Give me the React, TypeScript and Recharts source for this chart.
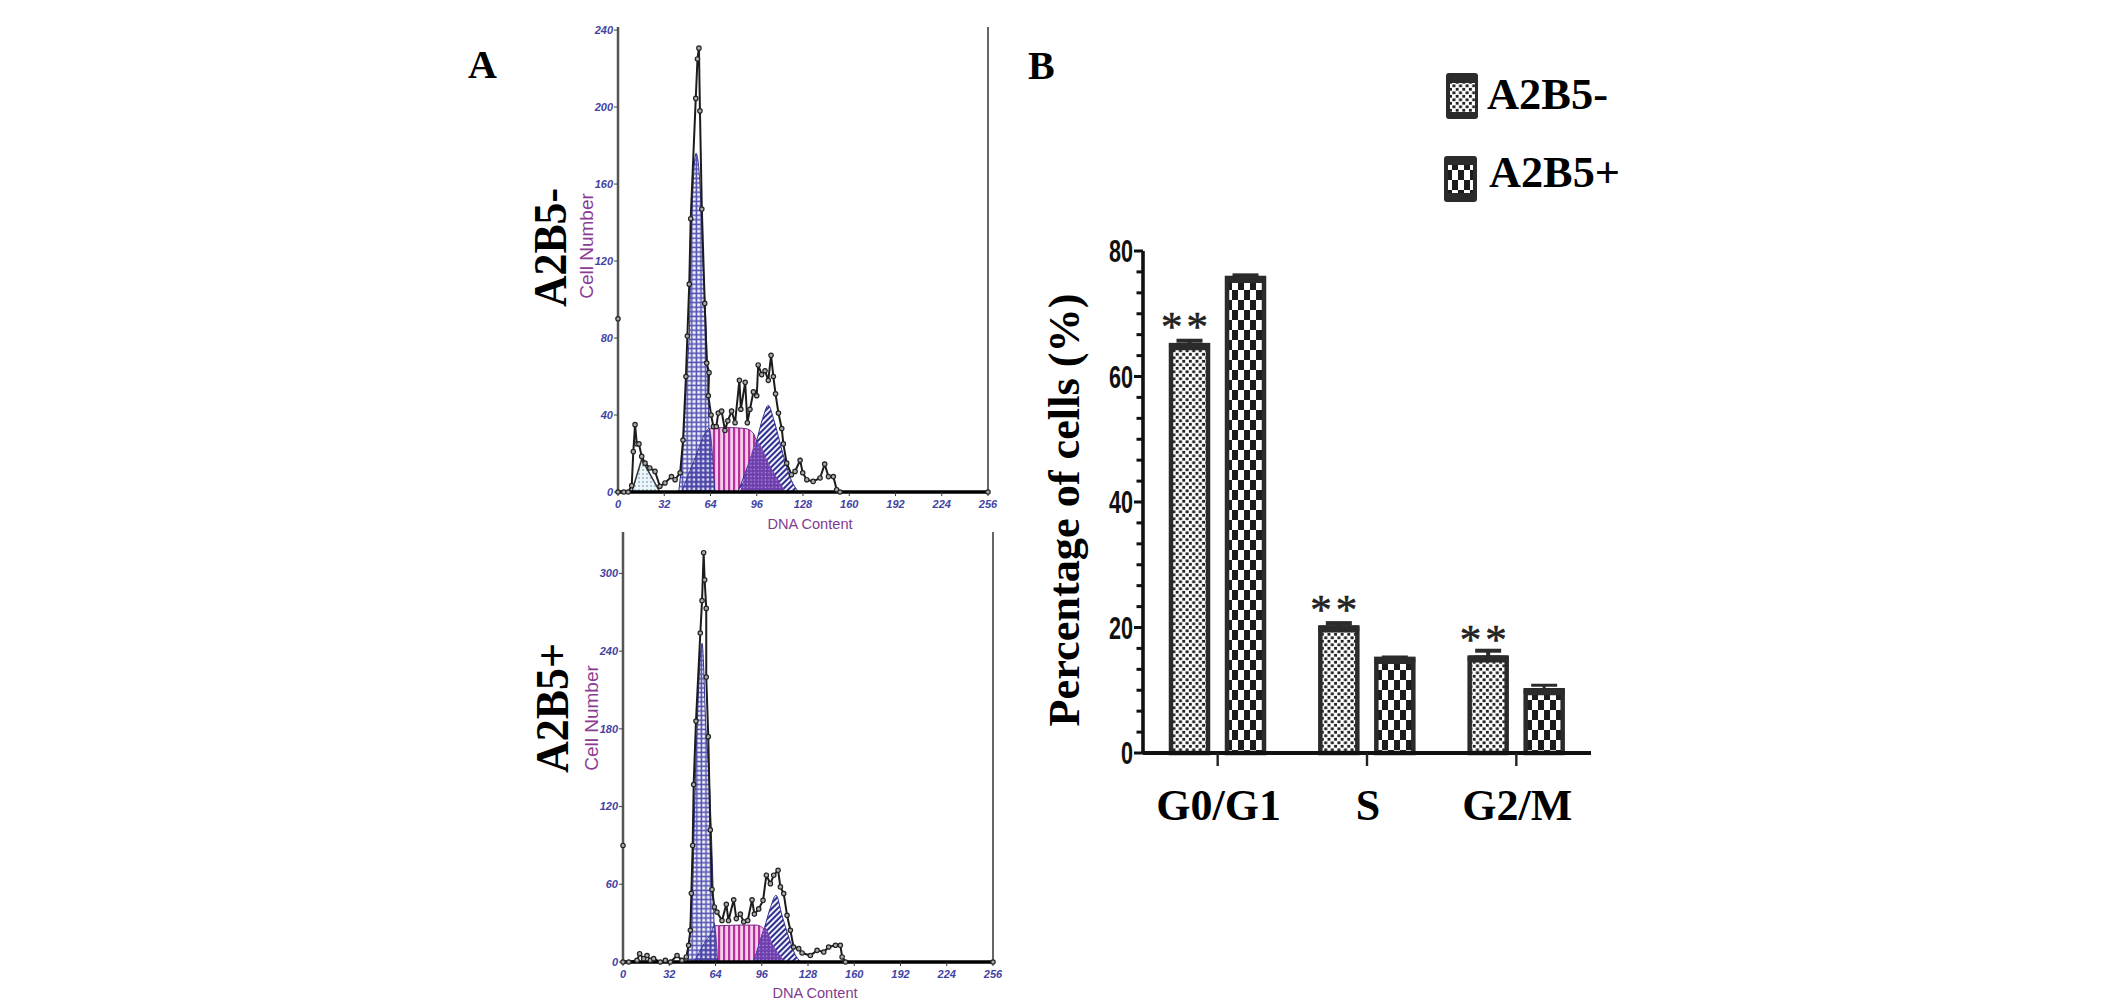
import { Area, Bar, BarChart, ComposedChart, ErrorBar, LabelList, Line, ReferenceLine, XAxis, YAxis } from "recharts"

// flow cytometry histogram, A2B5- (channel / cell count)
const negChannels = [0, 0, 4, 7, 9.5, 10.6, 11.8, 13, 14.5, 16.4, 18.7, 22, 25.6, 29, 32.5, 37, 39.5, 43, 45, 47, 48, 49.3, 50.3, 53.8, 55, 56, 56.7, 58, 60, 61.4, 63, 62.5, 64.4, 66, 68, 69.4, 71.7, 74, 76, 78.6, 81, 84, 85, 88, 89.5, 91.3, 93.7, 96, 97, 99.4, 101.7, 104, 105.9, 107.5, 109, 111, 113.3, 114.4, 116.7, 120, 122.5, 126, 127.8, 130.6, 135, 139.8, 143, 145.6, 149, 151.3, 153.6, 256]
const negCounts = [90, 0, 0, 0, 3.3, 21, 35, 25, 25, 18.5, 15, 12.5, 10.7, 3, 4.7, 8, 6.4, 10, 27, 60, 81, 108, 142, 204.5, 225, 230.6, 198, 147, 98, 67, 62, 50, 40, 34, 34, 41, 42, 32, 37, 42, 36, 58, 43, 57, 36, 43, 52, 50, 66, 61, 63, 58, 71, 60, 51, 41, 33, 25, 15, 9, 10.7, 16.5, 10, 6.4, 5.5, 7.3, 14.5, 8, 8, 1.2, 0, 0]

const negDebrisCh = [9.5, 16.4, 29]
const negDebris = [0, 17, 0]
const negG1Ch = [42, 45.7, 47.5, 49.4, 50.3, 52, 54, 56.7, 58.8, 61, 62, 63, 67]
const negG1 = [0, 33, 62, 84, 120, 160, 176, 160, 120, 84, 62, 33, 0]
const negSCh = [44, 53, 62.3, 75, 88, 93.6, 96, 105, 116]
const negS = [0, 17, 32.7, 33.5, 33, 30.6, 26, 14, 0]
const negG2Ch = [83, 90, 96, 100, 104, 108, 114, 120, 125]
const negG2 = [0, 14, 27, 38, 45, 37, 20, 6, 0]
const negOverlapCh = [84.4, 90, 96, 105, 116]
const negOverlap = [0, 14, 26, 14, 0]
const negInnerCh = [44, 53, 62.3, 63, 67]
const negInner = [0, 17, 32.7, 33, 0]

// A2B5+
const posChannels = [0, 0, 4, 9.7, 11.5, 14.3, 16.6, 18.9, 21.2, 25.8, 29.3, 32.8, 37.4, 40.8, 43.8, 45.4, 46.6, 47.3, 48.2, 48.9, 50.5, 53.5, 54.7, 55.8, 56.5, 57.6, 57.6, 59, 60.4, 61.6, 63.2, 65, 68.5, 71.5, 73, 76.6, 78.4, 81.2, 83.5, 86.3, 89.3, 90.9, 93.9, 96.9, 99.2, 102, 104.3, 107.3, 108.9, 111.2, 113.5, 115.8, 118, 121.6, 123.9, 129.6, 134.3, 138.9, 142.3, 147, 150.4, 151.6, 153.9, 256]
const posCounts = [90, 0, 0, 1.3, 6.4, 2.6, 5, 1.3, 2.6, 0, 1.3, 0, 5, 1.3, 3.9, 12.9, 24.5, 53, 90, 137, 186, 254, 279, 316, 295, 273, 220, 174, 102, 56, 42.5, 38.6, 32, 44.5, 32, 48, 33.5, 37, 31, 32, 48, 37, 41, 47.6, 67, 60.5, 67, 70.8, 58, 52.8, 36, 24.5, 11.6, 10.3, 7, 5, 9, 7.7, 11.6, 12.9, 12.9, 3.9, 0, 0]

const posG1Ch = [44.8, 46.6, 48.2, 50, 51.2, 54.7, 57.4, 59.7, 62.3, 63, 65.5]
const posG1 = [0, 30, 58, 140, 180, 246, 180, 140, 58, 30, 0]
const posSCh = [49, 56, 62.7, 66, 80, 92, 96, 104, 112.5]
const posS = [0, 14, 28, 28, 28.5, 28.5, 27, 13, 0]
const posG2Ch = [90.4, 95, 98, 102, 105.9, 110, 115, 119, 123]
const posG2 = [0, 17, 27, 42, 51.5, 36, 18, 6, 0]
const posOverlapCh = [90.4, 95, 97.8, 104, 112.5]
const posOverlap = [0, 17, 27, 13, 0]
const posInnerCh = [49, 56, 62.7, 63, 65.5]
const posInner = [0, 14, 28, 30, 0]

const dnaTicks = [0, 32, 64, 96, 128, 160, 192, 224, 256]
const negYTicks = [0, 40, 80, 120, 160, 200, 240]
const posYTicks = [0, 60, 120, 180, 240, 300]

// bar panel
const phases = ["G0/G1", "S", "G2/M"]
const negPercent = [65, 20, 15.2]
const posPercent = [75.7, 15, 10]
const negError = [0.7, 0.7, 1.1]
const posError = [0.5, 0.3, 0.8]
const significance = ["**", "**", "**"]
const percentTicks = [0, 3.33, 6.67, 10, 13.33, 16.67, 20, 23.33, 26.67, 30, 33.33, 36.67, 40, 43.33, 46.67, 50, 53.33, 56.67, 60, 63.33, 66.67, 70, 73.33, 76.67, 80]

const pairs = (xs: number[], ys: number[]) => xs.map((ch, i) => ({ ch, v: ys[i] }))
const barData = phases.map((phase, i) => ({
  phase,
  neg: negPercent[i],
  pos: posPercent[i],
  negErr: [0, negError[i]],
  posErr: [0, posError[i]],
  sig: significance[i],
}))

const sans = "'Liberation Sans', Arial, sans-serif"
const serif = "'Liberation Serif', 'Times New Roman', serif"
const dark = "#2b2b2b"

function Patterns() {
  return (
    <svg width={0} height={0} style={{ position: "absolute" }}>
      <defs>
        <pattern id="debris" width={4} height={4} patternUnits="userSpaceOnUse">
          <rect width={4} height={4} fill="#eef5f8" />
          <rect width={2} height={2} fill="#a9c6d6" />
        </pattern>
        <pattern id="g1" width={4.6} height={4.6} patternUnits="userSpaceOnUse">
          <rect width={4.6} height={4.6} fill="#5555b4" />
          <rect x={1.2} y={1.2} width={3} height={3} fill="#f7f7fc" />
        </pattern>
        <pattern id="g1s" width={4.6} height={4.6} patternUnits="userSpaceOnUse">
          <rect width={4.6} height={4.6} fill="#4a46a8" />
          <rect x={1.4} y={1.4} width={2.4} height={2.4} fill="#e4dff6" />
        </pattern>
        <pattern id="sphase" width={5} height={5} patternUnits="userSpaceOnUse">
          <rect width={5} height={5} fill="#f3cdea" />
          <rect width={2.2} height={5} fill="#b5309c" />
        </pattern>
        <pattern id="g2" width={4} height={4} patternUnits="userSpaceOnUse" patternTransform="rotate(45)">
          <rect width={4} height={4} fill="#f2f2fa" />
          <rect width={2} height={4} fill="#2f2f90" />
        </pattern>
        <pattern id="overlap" width={3.6} height={3.6} patternUnits="userSpaceOnUse">
          <rect width={3.6} height={3.6} fill="#6d3fae" />
          <rect x={1.6} y={1.6} width={1.2} height={1.2} fill="#c9a9e4" />
        </pattern>
        <pattern id="barNeg" width={6.6} height={7} patternUnits="userSpaceOnUse">
          <rect width={6.6} height={7} fill="#fff" />
          <rect x={0.4} y={0.4} width={3} height={2.8} fill="#222" />
          <rect x={3.7} y={3.9} width={3} height={2.8} fill="#222" />
        </pattern>
        <pattern id="barPos" width={12} height={20} patternUnits="userSpaceOnUse">
          <rect width={12} height={20} fill="#fff" />
          <rect width={6} height={10} fill="#1c1c1c" />
          <rect x={6} y={10} width={6} height={10} fill="#1c1c1c" />
        </pattern>
      </defs>
    </svg>
  )
}

type Pt = { ch: number; v: number }
type HistProps = {
  plotTop: number
  plotHeight: number
  left: number
  yMax: number
  yTicks: number[]
  trace: Pt[]
  debris?: Pt[]
  g1: Pt[]
  s: Pt[]
  g2: Pt[]
  overlap: Pt[]
  inner: Pt[]
}

const tickStyle = { fontSize: 11, fontStyle: "italic", fontWeight: 700, fontFamily: sans, fill: "#4343a4" }

function Histogram({ plotTop, plotHeight, left, yMax, yTicks, trace, debris, g1, s, g2, overlap, inner }: HistProps) {
  const h = plotHeight + 50
  return (
    <div style={{ position: "absolute", left: left - 60, top: plotTop - 10, width: 440, height: h }}>
      <ComposedChart width={440} height={h} margin={{ top: 10, right: 10, bottom: 0, left: 20 }}>
        <XAxis
          type="number"
          dataKey="ch"
          domain={[0, 256]}
          ticks={dnaTicks}
          interval={0}
          height={40}
          tick={tickStyle}
          tickSize={4}
          tickMargin={4}
          axisLine={{ stroke: "#000", strokeWidth: 3.5 }}
          tickLine={{ stroke: "#333", strokeWidth: 1 }}
        />
        <YAxis
          type="number"
          domain={[0, yMax]}
          ticks={yTicks}
          interval={0}
          width={40}
          tick={tickStyle}
          tickSize={4}
          tickMargin={1}
          axisLine={{ stroke: "#555", strokeWidth: 2.5 }}
          tickLine={{ stroke: "#444", strokeWidth: 1 }}
        />
        <ReferenceLine x={256} stroke="#666" strokeWidth={2} />
        <Area data={s} dataKey="v" type="monotone" fill="url(#sphase)" fillOpacity={1} stroke="#7a2a86" strokeWidth={1} isAnimationActive={false} />
        <Area data={g2} dataKey="v" type="monotone" fill="url(#g2)" fillOpacity={1} stroke="#2f2f90" strokeWidth={1} isAnimationActive={false} />
        <Area data={overlap} dataKey="v" type="monotone" fill="url(#overlap)" fillOpacity={1} stroke="none" isAnimationActive={false} />
        {debris && <Area data={debris} dataKey="v" type="linear" fill="url(#debris)" fillOpacity={1} stroke="#333" strokeWidth={1.5} isAnimationActive={false} />}
        <Area data={g1} dataKey="v" type="monotone" fill="url(#g1)" fillOpacity={1} stroke="#2f2f8c" strokeWidth={1} isAnimationActive={false} />
        <Area data={inner} dataKey="v" type="monotone" fill="url(#g1s)" fillOpacity={1} stroke="#2f2f8c" strokeWidth={0.8} isAnimationActive={false} />
        <Line
          data={trace}
          dataKey="v"
          type="linear"
          stroke="#1c1c1c"
          strokeWidth={2}
          dot={{ r: 2.2, stroke: "#222", strokeWidth: 1.2, fill: "#aaa" }}
          isAnimationActive={false}
        />
      </ComposedChart>
    </div>
  )
}

function PercentTick({ x, y, payload }: any) {
  const major = Math.abs(payload.value % 20) < 0.01
  const label = String(payload.value)
  return (
    <g>
      <line x1={x - (major ? 9 : 6.5)} x2={x} y1={y} y2={y} stroke="#111" strokeWidth={3} />
      {major && (
        <text
          x={x - 10}
          y={y + 11}
          textAnchor="end"
          fontFamily={sans}
          fontWeight={700}
          fontSize={31}
          textLength={label.length * 12}
          lengthAdjust="spacingAndGlyphs"
          fill="#111"
        >
          {label}
        </text>
      )}
    </g>
  )
}

function PhaseTick({ x, y, payload }: any) {
  return (
    <g>
      <line x1={x} x2={x} y1={y} y2={y + 13} stroke="#222" strokeWidth={2.4} />
      <text x={x + 1} y={y + 67} textAnchor="middle" fontFamily={serif} fontWeight={700} fontSize={44} fill="#000">
        {payload.value}
      </text>
    </g>
  )
}

// bar with the heavy dark band seen along its top edge
function CappedBar({ x, y, width, height, fill }: any) {
  return (
    <g>
      <rect x={x} y={y} width={width} height={height} fill={fill} stroke={dark} strokeWidth={4.5} />
      <rect x={x - 2} y={y - 2} width={width + 4} height={7} rx={2} fill={dark} />
    </g>
  )
}

function Stars({ x, y, width, value }: any) {
  return (
    <text x={x + width / 2 - 3} y={y - 4} textAnchor="middle" fontFamily={serif} fontSize={43} letterSpacing={4} stroke="#222" strokeWidth={0.6} fill="#222">
      {value}
    </text>
  )
}

function PercentChart() {
  return (
    <div style={{ position: "absolute", left: 1040, top: 230, width: 580, height: 610 }}>
      <BarChart width={580} height={610} data={barData} barSize={37} barGap={19} margin={{ top: 21, right: 29, bottom: 27, left: 33 }}>
        <XAxis
          dataKey="phase"
          height={60}
          interval={0}
          tick={<PhaseTick />}
          tickLine={false}
          tickSize={0}
          tickMargin={0}
          axisLine={{ stroke: "#111", strokeWidth: 4 }}
        />
        <YAxis
          type="number"
          domain={[0, 80]}
          ticks={percentTicks}
          interval={0}
          width={70}
          tick={<PercentTick />}
          tickLine={false}
          tickSize={0}
          tickMargin={0}
          axisLine={{ stroke: "#111", strokeWidth: 3.6 }}
        />
        <Bar dataKey="neg" fill="url(#barNeg)" shape={<CappedBar />} isAnimationActive={false}>
          <ErrorBar dataKey="negErr" width={13} strokeWidth={4} stroke={dark} isAnimationActive={false} />
          <LabelList dataKey="sig" content={<Stars />} />
        </Bar>
        <Bar dataKey="pos" fill="url(#barPos)" shape={<CappedBar />} isAnimationActive={false}>
          <ErrorBar dataKey="posErr" width={13} strokeWidth={3} stroke={dark} isAnimationActive={false} />
        </Bar>
      </BarChart>
    </div>
  )
}

function Titles() {
  const big = { fontFamily: serif, fontWeight: 700, fill: "#000" }
  const cell = { fontFamily: sans, fontSize: 19, fill: "#8a3b92", textAnchor: "middle" as const }
  const dna = { fontFamily: sans, fontSize: 14.6, fill: "#7f3c90", textAnchor: "middle" as const }
  return (
    <svg width={2126} height={1007} style={{ position: "absolute", left: 0, top: 0, pointerEvents: "none" }}>
      <text x={468} y={78} fontSize={40} {...big}>A</text>
      <text x={1028} y={79} fontSize={40} {...big}>B</text>
      <text transform="translate(566 247.5) rotate(-90)" textAnchor="middle" fontSize={47} textLength={119} lengthAdjust="spacingAndGlyphs" {...big}>A2B5-</text>
      <text transform="translate(568 708) rotate(-90)" textAnchor="middle" fontSize={46} textLength={130} lengthAdjust="spacingAndGlyphs" {...big}>A2B5+</text>
      <text transform="translate(593 246) rotate(-90)" {...cell}>Cell Number</text>
      <text transform="translate(598 718) rotate(-90)" {...cell}>Cell Number</text>
      <text x={810} y={529} {...dna}>DNA Content</text>
      <text x={815} y={998} {...dna}>DNA Content</text>
      <text transform="translate(1079 510) rotate(-90)" textAnchor="middle" fontSize={44} textLength={433} lengthAdjust="spacingAndGlyphs" {...big}>Percentage of cells (%)</text>

      <rect x={1446} y={73} width={32} height={46} rx={3} fill={dark} />
      <rect x={1450} y={83} width={25} height={29} fill="url(#barNeg)" />
      <text x={1487} y={109} fontSize={45} textLength={121} lengthAdjust="spacingAndGlyphs" {...big}>A2B5-</text>
      <rect x={1444} y={156} width={33} height={46} rx={3} fill={dark} />
      <rect x={1448} y={165} width={25} height={28} fill="url(#barPos)" />
      <text x={1489} y={187} fontSize={44} textLength={131} lengthAdjust="spacingAndGlyphs" {...big}>A2B5+</text>
    </svg>
  )
}

export default function App() {
  return (
    <div style={{ position: "absolute", left: 0, top: 0, width: 2126, height: 1007, background: "#fff", overflow: "hidden" }}>
      <Patterns />
      <Histogram
        plotTop={27}
        plotHeight={465}
        left={618}
        yMax={241.6}
        yTicks={negYTicks}
        trace={pairs(negChannels, negCounts)}
        debris={pairs(negDebrisCh, negDebris)}
        g1={pairs(negG1Ch, negG1)}
        s={pairs(negSCh, negS)}
        g2={pairs(negG2Ch, negG2)}
        overlap={pairs(negOverlapCh, negOverlap)}
        inner={pairs(negInnerCh, negInner)}
      />
      <Histogram
        plotTop={532}
        plotHeight={430}
        left={622.7}
        yMax={332}
        yTicks={posYTicks}
        trace={pairs(posChannels, posCounts)}
        g1={pairs(posG1Ch, posG1)}
        s={pairs(posSCh, posS)}
        g2={pairs(posG2Ch, posG2)}
        overlap={pairs(posOverlapCh, posOverlap)}
        inner={pairs(posInnerCh, posInner)}
      />
      <PercentChart />
      <Titles />
    </div>
  )
}
